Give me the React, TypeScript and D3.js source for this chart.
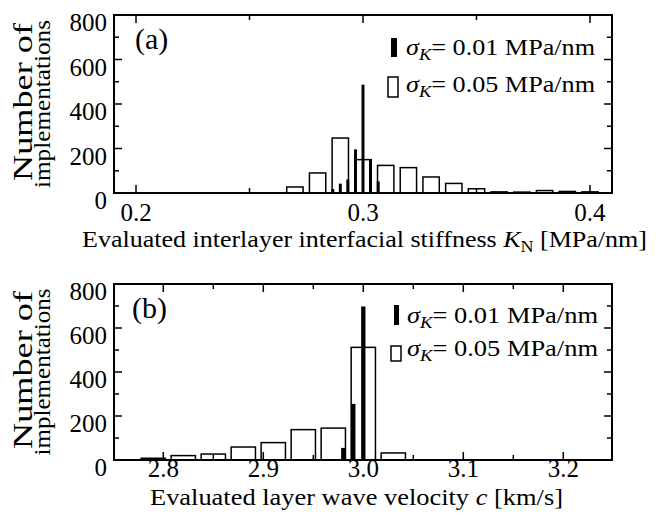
import React from "react";
import * as d3 from "d3";

// Panel (a): evaluated interlayer interfacial stiffness K_N [MPa/nm]
const stiffnessCentersWide = [0.27, 0.28, 0.29, 0.30, 0.31, 0.32, 0.33, 0.34, 0.35, 0.36, 0.37, 0.38, 0.39, 0.40];
const stiffnessCountsWide = [27, 90, 247, 150, 124, 114, 72, 43, 19, 5, 4, 11, 7, 5];
const stiffnessCentersNarrow = [0.2867, 0.29, 0.2933, 0.2967, 0.30, 0.3033, 0.3067, 0.32];
const stiffnessCountsNarrow = [18, 42, 61, 196, 487, 151, 52, 3];
const stiffnessMajorTicks = [0.2, 0.3, 0.4];
const stiffnessMinorTicks = [0.25, 0.35];

// Panel (b): evaluated layer wave velocity c [km/s]
const velocityCentersWide = [2.79, 2.82, 2.85, 2.88, 2.91, 2.94, 2.97, 3.0, 3.03];
const velocityCountsWide = [8, 20, 27, 59, 79, 138, 145, 512, 32];
const velocityCentersNarrow = [2.98, 2.99, 3.0, 3.01];
const velocityCountsNarrow = [55, 255, 698, 2];
const velocityMajorTicks = [2.8, 2.9, 3.0, 3.1, 3.2];
const velocityMinorTicks = [2.85, 2.95, 3.05, 3.15];

const countMajorTicks = [0, 200, 400, 600, 800];
const countMinorTicks = [100, 300, 500, 700];

const FONT = "'Liberation Serif', 'Times New Roman', Times, serif";
const LEFT = 114;
const RIGHT = 612;

type LegendBox = {
  fx: number; fw: number; fy1: number; fy2: number;
  ox: number; ow: number; oy1: number; oy2: number;
  tx: number; tlen: number; b1: number; b2: number;
};

type PanelProps = {
  top: number;
  bottom: number;
  xDomain: [number, number];
  majorX: number[];
  minorX: number[];
  fmt: (v: number) => string;
  wideCenters: number[];
  wideCounts: number[];
  wideWidth: number;
  narrowCenters: number[];
  narrowCounts: number[];
  narrowWidth: number;
  tag: string;
  tagX: number;
  tickBaseline: number;
  titleBaseline: number;
  titleCenter: number;
  titleLength: number;
  title: React.ReactNode;
  yTitleLengths: [number, number];
  legend: LegendBox;
};

function Panel(p: PanelProps) {
  const x = d3.scaleLinear().domain(p.xDomain).range([LEFT, RIGHT]);
  const y = d3.scaleLinear().domain([0, 800]).range([p.bottom, p.top]);
  const major = 8;
  const minor = 5;
  const lg = p.legend;
  const legendText = (val: string, baseline: number) => (
    <text
      x={lg.tx}
      y={baseline}
      fontSize={24}
      fontFamily={FONT}
      textLength={lg.tlen}
      lengthAdjust="spacingAndGlyphs"
    >
      <tspan fontStyle="italic">σ</tspan>
      <tspan fontStyle="italic" fontSize={17} dy={5}>K</tspan>
      <tspan dy={-5}>{`= ${val} MPa/nm`}</tspan>
    </text>
  );
  return (
    <g>
      {/* wide-σ histogram: outlined boxes */}
      {p.wideCenters.map((c, i) => (
        <rect
          key={"w" + i}
          x={x(c - p.wideWidth / 2)}
          y={y(p.wideCounts[i])}
          width={x(c + p.wideWidth / 2) - x(c - p.wideWidth / 2)}
          height={p.bottom - y(p.wideCounts[i])}
          fill="white"
          stroke="black"
          strokeWidth={1.5}
        />
      ))}
      {/* narrow-σ histogram: solid bars */}
      {p.narrowCenters.map((c, i) => (
        <rect
          key={"n" + i}
          x={x(c - p.narrowWidth / 2)}
          y={y(p.narrowCounts[i])}
          width={x(c + p.narrowWidth / 2) - x(c - p.narrowWidth / 2)}
          height={p.bottom - y(p.narrowCounts[i])}
          fill="black"
        />
      ))}
      {/* frame */}
      <rect x={LEFT} y={p.top} width={RIGHT - LEFT} height={p.bottom - p.top} fill="none" stroke="black" strokeWidth={2} />
      {/* x ticks, inward on top and bottom */}
      {p.majorX.map((v) => (
        <g key={"mx" + v}>
          <line x1={x(v)} x2={x(v)} y1={p.bottom} y2={p.bottom - major} stroke="black" strokeWidth={1.5} />
          <line x1={x(v)} x2={x(v)} y1={p.top} y2={p.top + major} stroke="black" strokeWidth={1.5} />
          <text x={x(v)} y={p.tickBaseline} textAnchor="middle" fontSize={25} fontFamily={FONT}>
            {p.fmt(v)}
          </text>
        </g>
      ))}
      {p.minorX.map((v) => (
        <g key={"nx" + v}>
          <line x1={x(v)} x2={x(v)} y1={p.bottom} y2={p.bottom - minor} stroke="black" strokeWidth={1.5} />
          <line x1={x(v)} x2={x(v)} y1={p.top} y2={p.top + minor} stroke="black" strokeWidth={1.5} />
        </g>
      ))}
      {/* y ticks, inward on left and right */}
      {countMajorTicks.map((v) => (
        <g key={"my" + v}>
          <line x1={LEFT} x2={LEFT + major} y1={y(v)} y2={y(v)} stroke="black" strokeWidth={1.5} />
          <line x1={RIGHT} x2={RIGHT - major} y1={y(v)} y2={y(v)} stroke="black" strokeWidth={1.5} />
          <text x={107} y={y(v) + 16} textAnchor="end" fontSize={25} fontFamily={FONT}>
            {v}
          </text>
        </g>
      ))}
      {countMinorTicks.map((v) => (
        <g key={"ny" + v}>
          <line x1={LEFT} x2={LEFT + minor} y1={y(v)} y2={y(v)} stroke="black" strokeWidth={1.5} />
          <line x1={RIGHT} x2={RIGHT - minor} y1={y(v)} y2={y(v)} stroke="black" strokeWidth={1.5} />
        </g>
      ))}
      {/* y-axis title */}
      <g transform={`translate(0, ${(p.top + p.bottom) / 2}) rotate(-90)`}>
        <text
          x={2}
          y={32}
          textAnchor="middle"
          fontSize={27}
          fontFamily={FONT}
          textLength={p.yTitleLengths[0]}
          lengthAdjust="spacingAndGlyphs"
        >
          Number of
        </text>
        <text
          x={0}
          y={50}
          textAnchor="middle"
          fontSize={24}
          fontFamily={FONT}
          textLength={p.yTitleLengths[1]}
          lengthAdjust="spacingAndGlyphs"
        >
          implementations
        </text>
      </g>
      {/* x-axis title */}
      <text
        x={p.titleCenter}
        y={p.titleBaseline}
        textAnchor="middle"
        fontSize={23}
        fontFamily={FONT}
        textLength={p.titleLength}
        lengthAdjust="spacingAndGlyphs"
      >
        {p.title}
      </text>
      {/* panel tag */}
      <text x={p.tagX} y={p.top + 34} fontSize={30} fontFamily={FONT}>
        {p.tag}
      </text>
      {/* legend */}
      <rect x={lg.fx} y={lg.fy1} width={lg.fw} height={lg.fy2 - lg.fy1} fill="black" />
      <rect x={lg.ox} y={lg.oy1} width={lg.ow} height={lg.oy2 - lg.oy1} fill="white" stroke="black" strokeWidth={1.5} />
      {legendText("0.01", lg.b1)}
      {legendText("0.05", lg.b2)}
    </g>
  );
}

export default function App() {
  return (
    <svg
      width={665}
      height={519}
      style={{ position: "absolute", left: 0, top: 0, background: "white" }}
    >
      <Panel
        top={15}
        bottom={193}
        xDomain={[0.1903, 0.4097]}
        majorX={stiffnessMajorTicks}
        minorX={stiffnessMinorTicks}
        fmt={(v) => d3.format(".1f")(v)}
        wideCenters={stiffnessCentersWide}
        wideCounts={stiffnessCountsWide}
        wideWidth={0.0072}
        narrowCenters={stiffnessCentersNarrow}
        narrowCounts={stiffnessCountsNarrow}
        narrowWidth={0.0013}
        tag="(a)"
        tagX={135}
        tickBaseline={221}
        titleBaseline={247}
        titleCenter={364.5}
        titleLength={565}
        title={
          <>
            <tspan>Evaluated interlayer interfacial stiffness </tspan>
            <tspan fontStyle="italic">K</tspan>
            <tspan fontSize={16} dy={5}>N</tspan>
            <tspan dy={-5}> [MPa/nm]</tspan>
          </>
        }
        yTitleLengths={[158, 168]}
        legend={{ fx: 391, fw: 6, fy1: 38, fy2: 57, ox: 388, ow: 10, oy1: 77, oy2: 97, tx: 406, tlen: 189, b1: 55, b2: 92 }}
      />
      <Panel
        top={284}
        bottom={460}
        xDomain={[2.7507, 3.2487]}
        majorX={velocityMajorTicks}
        minorX={velocityMinorTicks}
        fmt={(v) => d3.format(".1f")(v)}
        wideCenters={velocityCentersWide}
        wideCounts={velocityCountsWide}
        wideWidth={0.0243}
        narrowCenters={velocityCentersNarrow}
        narrowCounts={velocityCountsNarrow}
        narrowWidth={0.0043}
        tag="(b)"
        tagX={132}
        tickBaseline={477}
        titleBaseline={505}
        titleCenter={356.5}
        titleLength={413}
        title={
          <>
            <tspan>Evaluated layer wave velocity </tspan>
            <tspan fontStyle="italic">c</tspan>
            <tspan> [km/s]</tspan>
          </>
        }
        yTitleLengths={[158, 167]}
        legend={{ fx: 394, fw: 5, fy1: 305, fy2: 325, ox: 391, ow: 10, oy1: 346, oy2: 361, tx: 407, tlen: 191, b1: 323, b2: 356 }}
      />
    </svg>
  );
}
